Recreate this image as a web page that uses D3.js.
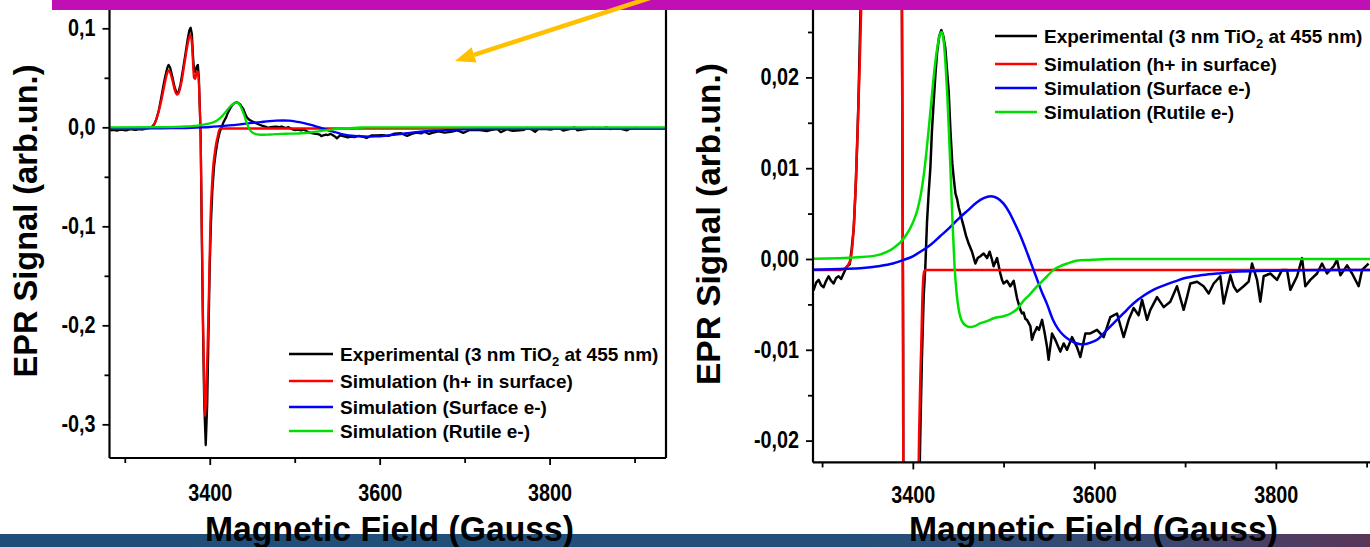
<!DOCTYPE html>
<html>
<head>
<meta charset="utf-8">
<script src="https://cdn.jsdelivr.net/npm/d3@7"></script>
<style>
  body { margin: 0; background: #fff; }
  svg { display: block; }
  text { font-family: "Liberation Sans", Arial, Helvetica, sans-serif; font-weight: bold; fill: #000; }
</style>
</head>
<body>
<svg id="fig" width="1370" height="547"></svg>
<script>
// ---- EPR spectra: [magnetic field (G), signal (arb. un.)] ----
const experimental = [
  [3283,-0.0030],[3287,-0.0026],[3290.7,-0.0034],[3293.5,-0.0026],[3296.2,-0.0023],[3299,-0.0029],
  [3301.7,-0.0031],[3304.5,-0.0024],[3307.2,-0.0019],[3310,-0.0024],[3312.7,-0.0027],[3315.5,-0.0021],
  [3318.2,-0.0019],[3321,-0.0022],[3323.7,-0.0016],[3325.5,-0.0012],[3327.5,-0.0008],[3330.4,-0.0006],
  [3332.5,0.001],[3335,0.0035],[3337.5,0.009],[3340,0.017],[3342.5,0.028],[3345,0.040],[3347.5,0.051],
  [3350,0.060],[3351.5,0.063],[3353.5,0.060],[3356,0.051],[3358.5,0.041],[3361,0.0345],[3363,0.035],
  [3365.5,0.043],[3368,0.056],[3371,0.072],[3374,0.089],[3376,0.098],[3377.5,0.1006],[3379,0.094],
  [3380.3,0.072],[3381.5,0.057],[3382.8,0.056],[3384.5,0.061],[3386,0.063],[3387.2,0.05],[3388.3,0.02],
  [3389.3,-0.01],[3390.5,-0.10],[3392,-0.20],[3393.5,-0.28],[3395.3,-0.321],[3397,-0.28],[3398.5,-0.21],
  [3400,-0.14],[3401.5,-0.095],[3403,-0.065],[3405,-0.040],[3407,-0.026],[3408.5,-0.018],[3410,-0.011],
  [3412,-0.004],[3413.8,-0.0008],[3415.6,0.0040],[3417.4,0.0072],[3419.3,0.0100],[3421,0.0140],
  [3422.9,0.0172],[3425,0.0205],[3426.7,0.0227],[3429,0.0245],[3431.4,0.0252],[3433.5,0.0246],
  [3435.8,0.0232],[3437.5,0.021],[3439.5,0.0185],[3441.5,0.0140],[3443.5,0.0105],[3445.5,0.0085],
  [3447,0.0072],[3448.8,0.0066],[3450.5,0.0057],[3453,0.0047],[3456,0.0036],[3458.5,0.0026],
  [3461.5,0.0017],[3465.2,0.0008],[3468.9,-0.0005],[3471.5,0.0001],[3474.4,0.0003],[3478,0.0006],
  [3481.8,0.0001],[3484.6,0.0008],[3487,0.0],[3489,-0.0008],[3492.8,0.0001],[3496.4,-0.0016],
  [3498.3,-0.0023],[3500,-0.0027],[3503.8,-0.0024],[3507.4,-0.0030],[3509.3,-0.0027],[3511.1,-0.0024],
  [3514.8,-0.0043],[3518.5,-0.0056],[3520.3,-0.0060],[3522.1,-0.0059],[3524,-0.0066],[3525.8,-0.0067],
  [3529.5,-0.0074],[3531.3,-0.0089],[3533.5,-0.0082],[3536.9,-0.0075],[3539,-0.0078],[3542.4,-0.0067],
  [3545,-0.0080],[3547.9,-0.0097],[3549.6,-0.0111],[3553.4,-0.0082],[3557,-0.0089],[3562.5,-0.0102],
  [3566.2,-0.0093],[3569.9,-0.0100],[3575.4,-0.0086],[3580.9,-0.0097],[3584.6,-0.0108],[3590.1,-0.0082],
  [3595.6,-0.0082],[3603,-0.0078],[3610.3,-0.0086],[3617.6,-0.0064],[3625,-0.0060],[3632.3,-0.0086],
  [3637.8,-0.0067],[3643.3,-0.0054],[3648.8,-0.0062],[3652.6,-0.0045],[3658.1,-0.0067],[3661.7,-0.0056],
  [3669.1,-0.0042],[3676.4,-0.0053],[3683.7,-0.0047],[3691.1,-0.0030],[3698.4,-0.0056],[3702.1,-0.0042],
  [3705.8,-0.0027],[3713.2,-0.0025],[3720.4,-0.0030],[3726,-0.0038],[3731.5,-0.0027],[3738.8,-0.0019],
  [3742.5,-0.0049],[3749.9,-0.0018],[3753.5,-0.0030],[3757.2,-0.0036],[3764.5,-0.0030],[3770,-0.0025],
  [3773.8,-0.0005],[3779.3,-0.0023],[3782.9,-0.0047],[3786.6,-0.0019],[3793.9,-0.0016],[3801.3,-0.0023],
  [3806.8,-0.0012],[3812.3,-0.0012],[3816,-0.0034],[3823.4,-0.0019],[3828.9,0.0001],[3832.5,-0.0030],
  [3838,-0.0023],[3845.4,-0.0016],[3850.9,-0.0005],[3856.4,-0.0016],[3863.7,-0.0008],[3867.4,-0.0001],
  [3871.1,-0.0018],[3878.5,-0.0007],[3884,-0.0016],[3891.2,-0.0030],[3895,-0.0012],[3902.2,-0.0005]
];

const holeSurface = [
  [3282,-0.0012],[3320,-0.0012],[3326,-0.0010],[3329,-0.0006],[3331.5,0.0],[3334,0.0022],[3336.5,0.0068],
  [3339,0.0135],[3341.5,0.0215],[3344,0.031],[3346.5,0.042],[3349,0.052],[3351.5,0.0575],[3354,0.054],
  [3356.5,0.046],[3359,0.037],[3361.5,0.033],[3364,0.036],[3367,0.047],[3370,0.063],[3373,0.079],
  [3375.5,0.090],[3377.3,0.0932],[3379,0.085],[3380.5,0.062],[3381.5,0.050],[3382.8,0.049],[3384.5,0.055],
  [3386,0.0562],[3387.2,0.045],[3388.2,0.02],[3389.2,-0.005],[3390.5,-0.09],[3392,-0.19],[3393.5,-0.265],
  [3394.5,-0.292],[3395.8,-0.27],[3397.5,-0.22],[3399.2,-0.16],[3400.8,-0.094],[3402.5,-0.06],
  [3404.2,-0.038],[3405.9,-0.026],[3407,-0.019],[3408.3,-0.013],[3409.3,-0.0095],[3410.5,-0.0045],
  [3411.5,-0.0022],[3412.5,-0.0014],[3414,-0.0012],[3940,-0.0012]
];

const surfaceElectron = [
  [3282,-0.0012],[3320,-0.0011],[3345,-0.0010],[3362,-0.0008],[3378,-0.0005],[3390,-0.0001],[3400,0.0003],
  [3410,0.0009],[3420,0.0016],[3430,0.0025],[3440,0.0034],[3450,0.0044],[3460,0.0053],[3470,0.0062],
  [3478,0.0067],[3486,0.0069],[3493,0.0067],[3500,0.0061],[3506,0.0052],[3512,0.0040],[3518,0.0027],
  [3524,0.0012],[3530,-0.0004],[3536,-0.0020],[3542,-0.0036],[3548,-0.0050],[3554,-0.0066],[3560,-0.0077],
  [3567,-0.0085],[3574,-0.0090],[3581,-0.0093],[3588,-0.0094],[3596,-0.0092],[3603,-0.0089],[3612,-0.0080],
  [3621,-0.0071],[3632,-0.0060],[3643,-0.0049],[3655,-0.0040],[3665,-0.0034],[3677,-0.0029],[3688,-0.0025],
  [3700,-0.0021],[3717,-0.0018],[3735,-0.0016],[3754,-0.0014],[3790,-0.0013],[3850,-0.0012],[3940,-0.0012]
];

const rutileElectron = [
  [3282,0.0],[3340,0.0002],[3360,0.0004],[3372,0.0008],[3380,0.0013],[3386,0.0018],[3393,0.0027],
  [3400,0.0040],[3405,0.0054],[3409,0.0072],[3412,0.0092],[3415,0.0118],[3418,0.0148],[3421,0.0180],
  [3424,0.0210],[3427,0.0233],[3429.5,0.0246],[3432,0.0250],[3434,0.0240],[3436,0.0215],[3438,0.018],
  [3440,0.0135],[3442,0.0085],[3444,0.0035],[3446,-0.0008],[3448.5,-0.0040],[3451,-0.0058],[3454,-0.0068],
  [3458,-0.0073],[3463,-0.0075],[3468,-0.0074],[3474,-0.0071],[3480,-0.0069],[3490,-0.0065],[3500,-0.0063],
  [3508,-0.0060],[3515,-0.0055],[3522,-0.0046],[3528,-0.0040],[3535,-0.0032],[3541,-0.0026],[3548,-0.0019],
  [3555,-0.0012],[3562,-0.0008],[3570,-0.0005],[3580,-0.0002],[3595,-0.0001],[3620,0.0],[3940,0.0]
];

const seriesNames = [
  "Experimental (3 nm TiO|2| at 455 nm)",
  "Simulation (h+ in surface)",
  "Simulation (Surface e-)",
  "Simulation (Rutile e-)"
];
const seriesColors = ["#000000", "#ff0000", "#0000ff", "#00e000"];
const allSeries = [experimental, holeSurface, surfaceElectron, rutileElectron];

const xMajorTicks = [3400, 3600, 3800];
const xMinorTicks = [3300, 3500, 3700, 3900];
const xTickLabels = ["3400", "3600", "3800"];

const leftYMajor = [0.1, 0.0, -0.1, -0.2, -0.3];
const leftYMinor = [0.05, -0.05, -0.15, -0.25];
const leftYLabels = ["0,1", "0,0", "-0,1", "-0,2", "-0,3"];

const rightYMajor = [0.02, 0.01, 0.0, -0.01, -0.02];
const rightYMinor = [0.025, 0.015, 0.005, -0.005, -0.015];
const rightYLabels = ["0,02", "0,01", "0,00", "-0,01", "-0,02"];

const xTitle = "Magnetic Field (Gauss)";
const yTitle = "EPR Signal (arb.un.)";

const svg = d3.select("#fig");
const defs = svg.append("defs");

// footer band
const grad = defs.append("linearGradient").attr("id", "band").attr("x1", "0").attr("x2", "1");
grad.append("stop").attr("offset", "0%").attr("stop-color", "#1f4e79");
grad.append("stop").attr("offset", "62%").attr("stop-color", "#244f7a");
grad.append("stop").attr("offset", "85%").attr("stop-color", "#3a4870");
grad.append("stop").attr("offset", "100%").attr("stop-color", "#5a3658");
svg.append("rect").attr("x", 0).attr("y", 534).attr("width", 1370).attr("height", 13).attr("fill", "url(#band)");

// squeeze a text element horizontally to a given width
function fitWidth(sel, w) {
  sel.attr("textLength", w).attr("lengthAdjust", "spacingAndGlyphs");
}

function drawPanel(p, idx) {
  const x = d3.scaleLinear().domain(p.xDomain).range(p.xRange);
  const y = d3.scaleLinear().domain(p.yDomain).range(p.yRange);
  const g = svg.append("g");

  const clipId = "clip" + idx;
  defs.append("clipPath").attr("id", clipId)
    .append("rect")
    .attr("x", p.xRange[0]).attr("y", p.yRange[1])
    .attr("width", p.xRange[1] - p.xRange[0]).attr("height", p.yRange[0] - p.yRange[1]);

  const smooth = d3.line().x(d => x(d[0])).y(d => y(d[1])).curve(d3.curveMonotoneX);
  const raw = d3.line().x(d => x(d[0])).y(d => y(d[1]));
  const plot = g.append("g").attr("clip-path", `url(#${clipId})`);
  allSeries.forEach((s, i) => {
    plot.append("path").datum(s)
      .attr("d", i === 0 ? raw : smooth)
      .attr("fill", "none")
      .attr("stroke", seriesColors[i])
      .attr("stroke-width", p.lineWidth)
      .attr("stroke-linejoin", "round");
  });

  // axes
  const xAxis = d3.axisBottom(x).tickValues(xMajorTicks)
    .tickFormat((d, i) => xTickLabels[i]).tickSize(7).tickPadding(p.xPad);
  const xMinor = d3.axisBottom(x).tickValues(xMinorTicks).tickFormat("").tickSize(5);
  const yAxis = d3.axisLeft(y).tickValues(p.yMajor)
    .tickFormat((d, i) => p.yLabels[i]).tickSize(7).tickPadding(7);
  const yMinor = d3.axisLeft(y).tickValues(p.yMinor).tickFormat("").tickSize(5);

  const gx = g.append("g").attr("transform", `translate(0,${p.yRange[0]})`).call(xAxis);
  g.append("g").attr("transform", `translate(0,${p.yRange[0]})`).call(xMinor);
  const gy = g.append("g").attr("transform", `translate(${p.xRange[0]},0)`).call(yAxis);
  g.append("g").attr("transform", `translate(${p.xRange[0]},0)`).call(yMinor);

  g.selectAll(".domain").remove();
  g.selectAll(".tick line").attr("stroke", "#000").attr("stroke-width", 1.8);
  gx.selectAll(".tick text").attr("font-size", 23).attr("font-family", null);
  gy.selectAll(".tick text").attr("font-size", 23).attr("font-family", null);
  g.selectAll(".tick text").each(function () {
    const t = d3.select(this);
    const w = this.getComputedTextLength();
    fitWidth(t, w * 0.86);
  });

  // frame lines
  const frame = g.append("g").attr("stroke", "#000").attr("stroke-width", 2.2).attr("fill", "none");
  frame.append("line").attr("x1", p.xRange[0]).attr("x2", p.xRange[1])
    .attr("y1", p.yRange[0]).attr("y2", p.yRange[0]);
  frame.append("line").attr("x1", p.xRange[0]).attr("x2", p.xRange[0])
    .attr("y1", p.yRange[0]).attr("y2", p.yRange[1]);
  frame.append("line").attr("x1", p.xRange[1]).attr("x2", p.xRange[1])
    .attr("y1", p.yRange[0]).attr("y2", p.yRange[1]);
  frame.append("line").attr("x1", p.xRange[0]).attr("x2", p.xRange[1])
    .attr("y1", p.yRange[1]).attr("y2", p.yRange[1]);

  // axis titles
  const xt = g.append("text").attr("x", p.xTitlePos[0]).attr("y", p.xTitlePos[1])
    .attr("text-anchor", "middle").attr("font-size", 35).text(xTitle);
  fitWidth(xt, 369);
  const yt = g.append("text")
    .attr("transform", `translate(${p.yTitlePos[0]},${p.yTitlePos[1]}) rotate(-90)`)
    .attr("text-anchor", "middle").attr("font-size", 33).text(yTitle);
  fitWidth(yt, p.yTitleLen);

  // legend
  const lg = g.append("g");
  seriesNames.forEach((name, i) => {
    const yy = p.legendRows[i];
    lg.append("line").attr("x1", p.legendX[0]).attr("x2", p.legendX[1])
      .attr("y1", yy).attr("y2", yy)
      .attr("stroke", seriesColors[i]).attr("stroke-width", 2.4);
    const t = lg.append("text").attr("x", p.legendX[1] + 7).attr("y", yy + 6.5).attr("font-size", 19);
    const parts = name.split("|");
    t.append("tspan").text(parts[0]);
    if (parts.length > 1) {
      t.append("tspan").attr("font-size", 13).attr("dy", 5).text(parts[1]);
      t.append("tspan").attr("dy", -5).text(parts[2]);
    }
  });
}

const panels = [
  {
    xDomain: [3282, 3937], xRange: [109.5, 666],
    yDomain: [-0.334, 0.125], yRange: [458, 3.55],
    yMajor: leftYMajor, yMinor: leftYMinor, yLabels: leftYLabels,
    lineWidth: 2.3, xPad: 20,
    xTitlePos: [389.5, 541], yTitlePos: [37, 221], yTitleLen: 313,
    legendX: [289, 333], legendRows: [354, 381, 407, 431]
  },
  {
    xDomain: [3290, 3940], xRange: [813, 1402.9],
    yDomain: [-0.0224, 0.0284], yRange: [462.4, 1.1],
    yMajor: rightYMajor, yMinor: rightYMinor, yLabels: rightYLabels,
    lineWidth: 2.5, xPad: 17,
    xTitlePos: [1093.5, 541], yTitlePos: [720, 224], yTitleLen: 322,
    legendX: [995, 1037], legendRows: [36, 64, 88, 112]
  }
];
panels.forEach(drawPanel);

// title bar and pointer arrow on top
svg.append("rect").attr("x", 52).attr("y", 0).attr("width", 1318).attr("height", 10).attr("fill", "#c010b5");
const tip = [455, 61], tail = [656, -4];
const dx = tip[0] - tail[0], dy = tip[1] - tail[1];
const len = Math.hypot(dx, dy), ux = dx / len, uy = dy / len;
const headL = 20, headW = 8;
const bx = tip[0] - ux * headL, by = tip[1] - uy * headL;
svg.append("line").attr("x1", tail[0]).attr("y1", tail[1]).attr("x2", bx).attr("y2", by)
  .attr("stroke", "#ffc000").attr("stroke-width", 4.5);
svg.append("polygon")
  .attr("points", [[tip[0], tip[1]], [bx - uy * headW, by + ux * headW], [bx + uy * headW, by - ux * headW]]
    .map(p => p.join(",")).join(" "))
  .attr("fill", "#ffc000");
</script>
</body>
</html>
